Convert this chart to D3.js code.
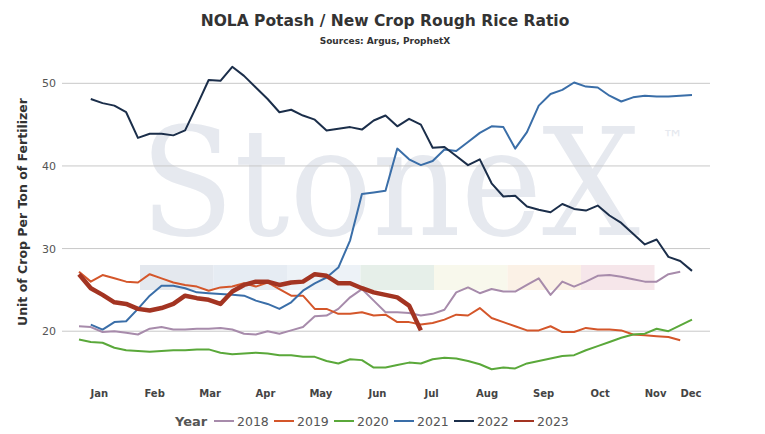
<!DOCTYPE html>
<html><head><meta charset="utf-8">
<script src="https://cdn.jsdelivr.net/npm/d3@7"></script>
<style>body{margin:0;background:#fff;font-family:Verdana,"DejaVu Sans",sans-serif}</style>
</head><body><div id="chart"></div>
<script>
const W = 765, H = 434;

// weekly ratios
const months = ["Jan","Feb","Mar","Apr","May","Jun","Jul","Aug","Sep","Oct","Nov","Dec"];
const monthWeeks = [1.8,6.5,11.2,15.9,20.6,25.4,30,34.7,39.5,44.3,49,52];
const yTicks = [20,30,40,50];
const years = ["2018","2019","2020","2021","2022","2023"];
const colors = ["#a78bab","#d4562a","#5aa83a","#3a6ea8","#1b2e4a","#a33422"];
const startWeek = [0,0,0,1,1,0];
const s2018 = [20.6,20.5,19.9,20.0,19.8,19.6,20.3,20.5,20.2,20.2,20.3,20.3,20.4,20.2,19.7,19.6,20.0,19.7,20.1,20.5,21.8,21.9,22.7,24.1,25.1,23.7,22.3,22.3,22.2,21.9,22.1,22.6,24.7,25.3,24.6,25.1,24.8,24.8,25.6,26.4,24.4,26.0,25.4,26.0,26.7,26.8,26.6,26.3,26.0,26.0,26.9,27.2];
const s2019 = [27.2,26.0,26.8,26.4,26.0,25.9,26.9,26.4,25.9,25.6,25.4,24.9,25.3,25.4,25.8,25.4,25.9,25.1,24.3,24.3,22.7,22.7,22.1,22.1,22.3,21.9,22.0,21.1,21.1,20.8,21.0,21.4,22.0,21.9,22.8,21.6,21.1,20.6,20.1,20.1,20.6,19.9,19.9,20.4,20.2,20.2,20.1,19.6,19.5,19.4,19.3,18.9];
const s2020 = [19.0,18.7,18.6,18.0,17.7,17.6,17.5,17.6,17.7,17.7,17.8,17.8,17.4,17.2,17.3,17.4,17.3,17.1,17.1,16.9,16.9,16.4,16.1,16.6,16.5,15.6,15.6,15.9,16.2,16.1,16.6,16.8,16.7,16.4,16.0,15.4,15.6,15.5,16.1,16.4,16.7,17.0,17.1,17.7,18.2,18.7,19.2,19.6,19.7,20.3,20.0,20.7,21.4];
const s2021 = [20.8,20.2,21.1,21.2,22.7,24.3,25.5,25.5,25.2,24.7,24.6,24.5,24.4,24.3,23.7,23.3,22.7,23.5,24.9,25.8,26.5,27.7,31.0,36.6,36.8,37.0,42.1,40.8,40.1,40.6,42.0,41.8,42.9,44.0,44.8,44.7,42.1,44.1,47.3,48.7,49.2,50.1,49.6,49.5,48.5,47.8,48.3,48.5,48.4,48.4,48.5,48.6];
const s2022 = [48.1,47.6,47.3,46.5,43.4,43.9,43.9,43.7,44.3,47.3,50.4,50.3,52.0,50.9,49.5,48.1,46.5,46.8,46.1,45.6,44.3,44.5,44.7,44.4,45.5,46.1,44.8,45.7,45.0,42.2,42.3,41.2,40.1,40.8,37.9,36.3,36.4,35.1,34.7,34.4,35.4,34.8,34.6,35.2,34.0,33.1,31.8,30.5,31.1,29.0,28.5,27.3];
const s2023 = [26.9,25.2,24.4,23.5,23.3,22.7,22.5,22.8,23.3,24.3,24.0,23.8,23.3,24.8,25.6,26.0,26.0,25.6,25.9,26.0,26.9,26.7,25.8,25.8,25.2,24.7,24.4,24.1,23.1,20.1];
const series = [s2018,s2019,s2020,s2021,s2022,s2023];
const bandColors = ["#e4e8ee","#e6ecf3","#edf2f7","#e6efe9","#f8f8ec","#fbf1e6","#f6e6ea"];

const x = d3.scaleLinear().domain([0,52]).range([79,692]);
const y = d3.scaleLinear().domain([14.7,55]).range([375,42]);

const svg = d3.select("#chart").append("svg").attr("width",W).attr("height",H);

// watermark
const wm = svg.append("g");
wm.selectAll("rect").data(bandColors).enter().append("rect")
  .attr("x",(d,i)=>140+i*73.5).attr("y",265).attr("width",73.5).attr("height",25)
  .attr("fill",d=>d);
const wt = wm.append("text").attr("x",140).attr("y",235).attr("fill","#e6e9ef");
wt.append("tspan")
  .attr("font-family","'DejaVu Serif','Liberation Serif',serif").attr("font-size",150)
  .attr("textLength",500).attr("lengthAdjust","spacingAndGlyphs").text("StoneX");
wt.append("tspan").attr("dx",22).attr("dy",-89).attr("font-size",22).text("™");

// grid
svg.append("g").selectAll("line").data(yTicks).enter().append("line")
  .attr("x1",62).attr("x2",710).attr("y1",d=>y(d)).attr("y2",d=>y(d))
  .attr("stroke","#c8c8c8").attr("stroke-width",1);
svg.append("g").selectAll("text").data(yTicks).enter().append("text")
  .attr("x",56).attr("y",d=>y(d)+4).attr("text-anchor","end")
  .attr("font-size",11).attr("fill","#555").text(d=>d);

// month labels
svg.append("g").selectAll("text").data(months).enter().append("text")
  .attr("x",(d,i)=>x(monthWeeks[i])-1).attr("y",397).attr("text-anchor","middle")
  .attr("font-size",10).attr("font-weight","bold").attr("fill","#444").text(d=>d);

// lines
const line = d3.line().x(d=>x(d[0])).y(d=>y(d[1]));
series.forEach((s,k)=>{
  const pts = s.map((v,i)=>[startWeek[k]+i, v]);
  svg.append("path").datum(pts).attr("d",line).attr("fill","none")
    .attr("stroke",colors[k]).attr("stroke-width",k===5?4.5:2)
    .attr("stroke-linejoin","round");
});

// titles
svg.append("text").attr("x",385).attr("y",26).attr("text-anchor","middle")
  .attr("font-size",15.5).attr("font-weight","bold").attr("fill","#333")
  .text("NOLA Potash / New Crop Rough Rice Ratio");
svg.append("text").attr("x",385).attr("y",44).attr("text-anchor","middle")
  .attr("font-size",9).attr("font-weight","bold").attr("fill","#333")
  .text("Sources: Argus, ProphetX");
svg.append("text").attr("transform","translate(27,212) rotate(-90)")
  .attr("text-anchor","middle").attr("font-size",12.5).attr("font-weight","bold")
  .attr("fill","#333").text("Unit of Crop Per Ton of Fertilizer");

// legend
const lg = svg.append("g").attr("transform","translate(0,421)");
lg.append("text").attr("x",175).attr("y",5).attr("font-size",13).attr("font-weight","bold")
  .attr("fill","#555").text("Year");
years.forEach((yr,i)=>{
  const lx = 214 + i*60;
  lg.append("line").attr("x1",lx).attr("x2",lx+20).attr("y1",0).attr("y2",0)
    .attr("stroke",colors[i]).attr("stroke-width",2);
  lg.append("text").attr("x",lx+23).attr("y",4.5).attr("font-size",12.5)
    .attr("fill","#555").text(yr);
});
</script></body></html>
